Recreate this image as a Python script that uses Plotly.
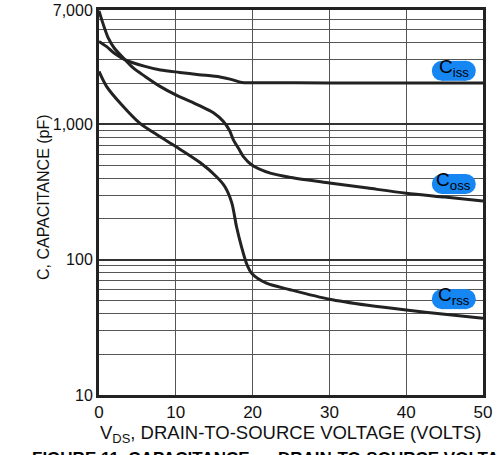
import plotly.graph_objects as go

# Data
ciss_v = [0, 1, 2, 3.4, 6, 8, 10.5, 13, 15.75, 17.2, 18.6, 20, 30, 40, 50]
ciss_c = [4100, 3750, 3350, 3000, 2680, 2520, 2420, 2330, 2240, 2150, 2040, 2030, 2025, 2020, 2020]

coss_v = [0, 0.5, 1.2, 2, 3.4, 4.5, 6, 8, 10, 13, 14.9, 16.2, 17, 17.5, 18.2, 18.8, 19.9, 22.3, 25, 30, 35, 40, 45, 50]
coss_c = [6900, 5600, 4350, 3650, 3000, 2600, 2260, 1900, 1650, 1380, 1217, 1049, 900, 768, 660, 578, 501, 436, 405, 369, 338, 310, 290, 271]

crss_v = [0, 1, 2.95, 5.3, 7.5, 10, 13.2, 15.3, 16.4, 17.3, 17.9, 18.55, 19.2, 19.9, 21.8, 24.9, 30, 35, 40, 45, 50]
crss_c = [2460, 1900, 1394, 1020, 840, 685, 520, 410, 346, 262, 176, 125, 94, 79, 67, 60, 51, 46, 42.4, 39.5, 36.9]

x_ticks = [0, 10, 20, 30, 40, 50]
y_ticks = [10, 100, 1000, 7000]
y_tick_text = ["10", "100", "1,000", "7,000"]
y_minor = [m * d for d in (10, 100, 1000) for m in range(2, 10)]

labels = [("C<sub>iss</sub>", 0.842), ("C<sub>oss</sub>", 0.548), ("C<sub>rss</sub>", 0.249)]

FONT = "Liberation Sans, Arial, sans-serif"
LINE = "#222222"

fig = go.Figure()
for v, c, name in [(ciss_v, ciss_c, "Ciss"), (coss_v, coss_c, "Coss"), (crss_v, crss_c, "Crss")]:
    fig.add_trace(go.Scatter(x=v, y=c, mode="lines", name=name,
                             line=dict(color=LINE, width=3, shape="spline", smoothing=0.8),
                             showlegend=False, hoverinfo="skip"))

shapes = []
annotations = []
for text, yp in labels:
    xp = 0.924
    shapes.append(dict(type="rect", xref="paper", yref="paper", xsizemode="pixel", ysizemode="pixel",
                       xanchor=xp, yanchor=yp, x0=-12, x1=12, y0=-10, y1=10,
                       fillcolor="#1686F2", line=dict(width=0), layer="above"))
    for cx in (-12, 12):
        shapes.append(dict(type="circle", xref="paper", yref="paper", xsizemode="pixel", ysizemode="pixel",
                           xanchor=xp, yanchor=yp, x0=cx - 10, x1=cx + 10, y0=-10, y1=10,
                           fillcolor="#1686F2", line=dict(width=0), layer="above"))
    annotations.append(dict(text=text, xref="paper", yref="paper", x=xp, y=yp + 0.008,
                            showarrow=False, font=dict(family=FONT, size=19, color="#000"),
                            xanchor="center", yanchor="middle"))

annotations.append(dict(text="V<sub>DS</sub>, DRAIN-TO-SOURCE VOLTAGE (VOLTS)", xref="paper", yref="paper",
                        x=0.5, y=-0.1, xanchor="center", yanchor="middle", showarrow=False,
                        font=dict(family=FONT, size=18.5, color="#111")))
annotations.append(dict(text="C, CAPACITANCE (pF)", xref="paper", yref="paper",
                        x=-0.145, y=0.515, textangle=-90, xanchor="center", yanchor="middle", showarrow=False,
                        font=dict(family=FONT, size=16, color="#111")))
annotations.append(dict(text="<b>FIGURE 11. CAPACITANCE vs DRAIN-TO-SOURCE VOLTAGE</b>", xref="paper", yref="paper",
                        x=-0.18, y=-0.135, xanchor="left", yanchor="top", showarrow=False,
                        font=dict(family=FONT, size=17, color="#000")))

fig.update_layout(
    width=498, height=455,
    margin=dict(l=99, r=15, t=10, b=60),
    paper_bgcolor="white", plot_bgcolor="white",
    font=dict(family=FONT, size=16, color="#111"),
    shapes=shapes, annotations=annotations,
    xaxis=dict(range=[0, 50], tickvals=x_ticks, ticks="", showgrid=True, gridcolor="#555", gridwidth=1,
               showline=True, linecolor=LINE, linewidth=3, mirror=True, zeroline=False,
               tickfont=dict(size=17), automargin=False, ticklabeloverflow="allow"),
    yaxis=dict(type="log", range=[1, 3.8451], tickvals=y_ticks, ticktext=y_tick_text, ticks="",
               showgrid=True, gridcolor="#333", gridwidth=2,
               minor=dict(tickvals=y_minor, showgrid=True, gridcolor="#555", gridwidth=1, ticks=""),
               showline=True, linecolor=LINE, linewidth=3, mirror=True, zeroline=False,
               tickfont=dict(size=16), automargin=False, ticklabeloverflow="allow"),
)

fig.write_html("out.html", config={"displayModeBar": False},
               post_script="document.body.style.margin='0';document.body.style.overflow='hidden';")
